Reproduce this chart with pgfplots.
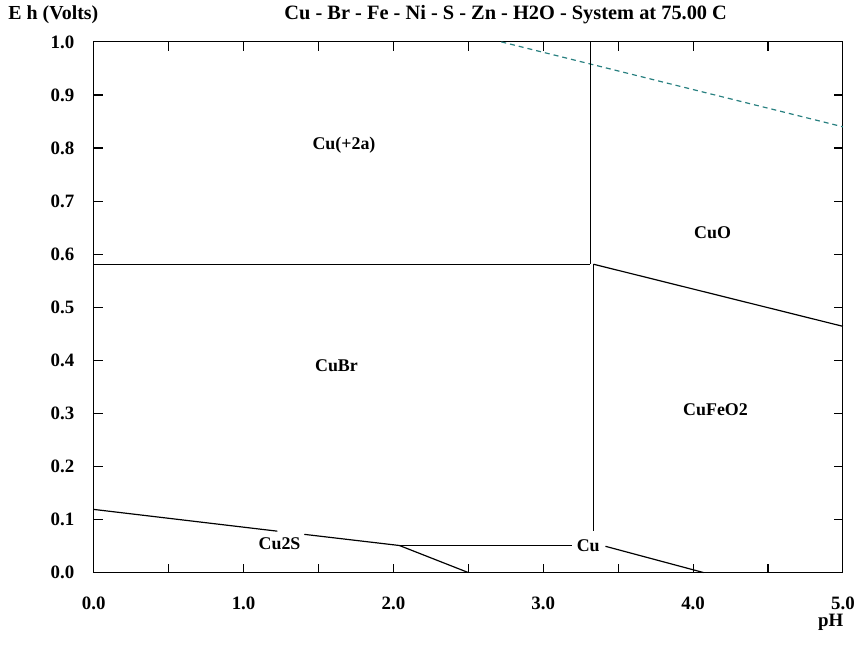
\documentclass[border=0pt]{standalone}
\usepackage{pgfplots}
\pgfplotsset{compat=1.18}
\usetikzlibrary{calc}
\usepackage{fontspec}
\setmainfont{Liberation Serif}
\definecolor{teal1}{RGB}{40,128,128}
\begin{document}
\begin{tikzpicture}
\begin{axis}[
 scale only axis, width=751bp, height=532bp,
 xmin=0, xmax=5, ymin=0, ymax=1,
 xtick={0,0.5,1,1.5,2,2.5,3,3.5,4,4.5,5},
 xticklabels={0.0,,1.0,,2.0,,3.0,,4.0,,5.0},
 ytick={0,0.1,0.2,0.3,0.4,0.5,0.6,0.7,0.8,0.9,1.0},
 yticklabels={0.0,0.1,0.2,0.3,0.4,0.5,0.6,0.7,0.8,0.9,1.0},
 tick align=inside, tick pos=both,
 major tick length=9bp,
 axis line style={line width=1.2pt},
 tick style={line width=1.1pt, black},
 ticklabel style={font=\fontsize{19}{19}\selectfont\bfseries},
 xticklabel style={yshift=-21bp},
 yticklabel style={xshift=-16bp},
 clip=false,
 nodes={font=\fontsize{18}{18}\selectfont\bfseries},
]
\pgfplotsset{every axis plot/.append style={line width=1.2pt}}
\addplot[teal1, mark=none, dash pattern=on 5bp off 4bp] coordinates {(2.72,1.0) (5.0,0.840)};
\addplot[black, mark=none, solid] coordinates {(0,0.581) (3.313,0.581)};
\addplot[black, mark=none, solid] coordinates {(3.313,1.0) (3.313,0.581)};
\addplot[black, mark=none, solid] coordinates {(3.336,0.581) (3.336,0.079)};
\addplot[black, mark=none, solid] coordinates {(3.336,0.581) (5.0,0.464)};
\addplot[black, mark=none, solid] coordinates {(0,0.119) (1.225,0.078)};
\addplot[black, mark=none, solid] coordinates {(1.405,0.072) (2.04,0.051)};
\addplot[black, mark=none, solid] coordinates {(2.04,0.051) (3.19,0.051)};
\addplot[black, mark=none, solid] coordinates {(2.04,0.051) (2.5,0.0)};
\addplot[black, mark=none, solid] coordinates {(3.415,0.0495) (4.07,0.0)};
\node at (axis cs:1.67,0.806) {Cu(+2a)};
\node at (axis cs:4.13,0.641) {CuO};
\node at (axis cs:1.62,0.389) {CuBr};
\node at (axis cs:4.15,0.306) {CuFeO2};
\node at (axis cs:1.24,0.055) {Cu2S};
\node at (axis cs:3.30,0.051) {Cu};
\end{axis}
\coordinate (O) at (current axis.south west);
\path[use as bounding box] ($(O)+(-94bp,-74bp)$) rectangle ++(858bp,648bp);
\node[font=\fontsize{20.5}{20.5}\selectfont\bfseries] at ($(O)+(413bp,559bp)$) {Cu - Br - Fe - Ni - S - Zn - H2O - System at 75.00 C};
\node[font=\fontsize{20}{20}\selectfont\bfseries, anchor=west] at ($(O)+(-89bp,559bp)$) {E h (Volts)};
\node[font=\fontsize{19}{19}\selectfont\bfseries, anchor=east] at ($(O)+(755bp,-50bp)$) {pH};
\end{tikzpicture}
\end{document}
